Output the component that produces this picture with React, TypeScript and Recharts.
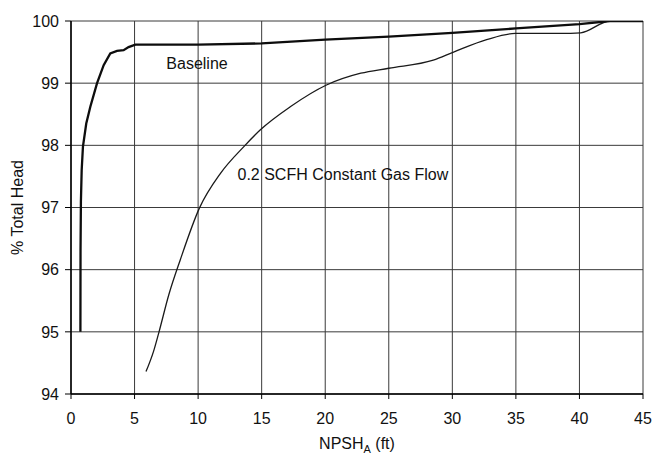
import React from 'react';
import { LineChart, Line, XAxis, YAxis, CartesianGrid, ReferenceDot } from 'recharts';

const baselineX = [0.74, 0.75, 0.78, 0.84, 0.94, 1.2, 1.52, 2.05, 2.57, 3.09, 3.62, 4.14, 4.53, 5.06, 10, 15, 20, 25, 30, 35, 40, 42.4, 45];
const baselineY = [95.0, 96.3, 97.1, 97.6, 97.98, 98.35, 98.62, 99.0, 99.29, 99.48, 99.52, 99.53, 99.58, 99.62, 99.62, 99.64, 99.7, 99.75, 99.81, 99.88, 99.95, 100, 100];

const gasX = [5.9, 6.5, 6.9, 7.7, 8.6, 10.1, 11.76, 13.6, 14.9, 17.25, 20.1, 22.8, 25.0, 28.5, 30.1, 32.7, 34.96, 38.5, 40.1, 42.4, 45];
const gasY = [94.36, 94.69, 94.98, 95.6, 96.16, 96.99, 97.55, 97.98, 98.25, 98.62, 98.97, 99.16, 99.24, 99.37, 99.5, 99.7, 99.8, 99.8, 99.81, 100, 100];

const xTicks = [0, 5, 10, 15, 20, 25, 30, 35, 40, 45];
const yTicks = [94, 95, 96, 97, 98, 99, 100];

const baselineLabel = { x: 7.5, y: 99.22, text: 'Baseline' };
const gasLabel = { x: 13.1, y: 97.44, text: '0.2 SCFH Constant Gas Flow' };

const baselineData = baselineX.map((x, i) => ({ x, y: baselineY[i] }));
const gasData = gasX.map((x, i) => ({ x, y: gasY[i] }));

const FONT = '"Liberation Sans", Arial, sans-serif';

const textLabel = (txt: string) => (props: any) => {
  const vb = props.viewBox || {};
  return (
    <text x={vb.x} y={vb.y} fontSize={16} fontFamily={FONT} fill="#111" textAnchor="start">
      {txt}
    </text>
  );
};

const XLabel = (props: any) => {
  const vb = props.viewBox || {};
  const cx = vb.x + vb.width / 2;
  return (
    <text x={cx} y={449} fontSize={16} fontFamily={FONT} fill="#111" textAnchor="middle">
      NPSH
      <tspan fontSize={11} dy={4}>A</tspan>
      <tspan dy={-4}> (ft)</tspan>
    </text>
  );
};

const YLabel = (props: any) => {
  const vb = props.viewBox || {};
  const cy = vb.y + vb.height / 2;
  const x = 23;
  return (
    <text x={x} y={cy} fontSize={16} fontFamily={FONT} fill="#111" textAnchor="middle" transform={`rotate(-90, ${x}, ${cy})`}>
      % Total Head
    </text>
  );
};

export default function App() {
  return (
    <div style={{ position: 'absolute', left: 0, top: 0, background: '#fff' }}>
      <LineChart width={655} height={454} margin={{ top: 21, right: 12, left: 0, bottom: 20 }}>
        <CartesianGrid stroke="#3a3a3a" strokeWidth={1} />
        <XAxis
          type="number"
          dataKey="x"
          domain={[0, 45]}
          ticks={xTicks}
          allowDataOverflow
          height={40}
          tickSize={5}
          tickMargin={14}
          axisLine={{ stroke: '#000', strokeWidth: 1.5 }}
          tickLine={{ stroke: '#000' }}
          tick={{ fontSize: 16, fontFamily: FONT, fill: '#111' }}
          label={<XLabel />}
        />
        <YAxis
          type="number"
          dataKey="y"
          domain={[94, 100]}
          ticks={yTicks}
          allowDataOverflow
          width={71}
          tickSize={6}
          tickMargin={6}
          axisLine={{ stroke: '#000', strokeWidth: 1.5 }}
          tickLine={{ stroke: '#000' }}
          tick={{ fontSize: 16, fontFamily: FONT, fill: '#111' }}
          label={<YLabel />}
        />
        <Line data={gasData} dataKey="y" type="monotone" stroke="#1a1a1a" strokeWidth={1.3} dot={false} isAnimationActive={false} />
        <Line data={baselineData} dataKey="y" type="linear" stroke="#0d0d0d" strokeWidth={2.3} dot={false} isAnimationActive={false} />
        <ReferenceDot x={baselineLabel.x} y={baselineLabel.y} r={0} fill="none" stroke="none" label={textLabel(baselineLabel.text)} />
        <ReferenceDot x={gasLabel.x} y={gasLabel.y} r={0} fill="none" stroke="none" label={textLabel(gasLabel.text)} />
      </LineChart>
    </div>
  );
}
